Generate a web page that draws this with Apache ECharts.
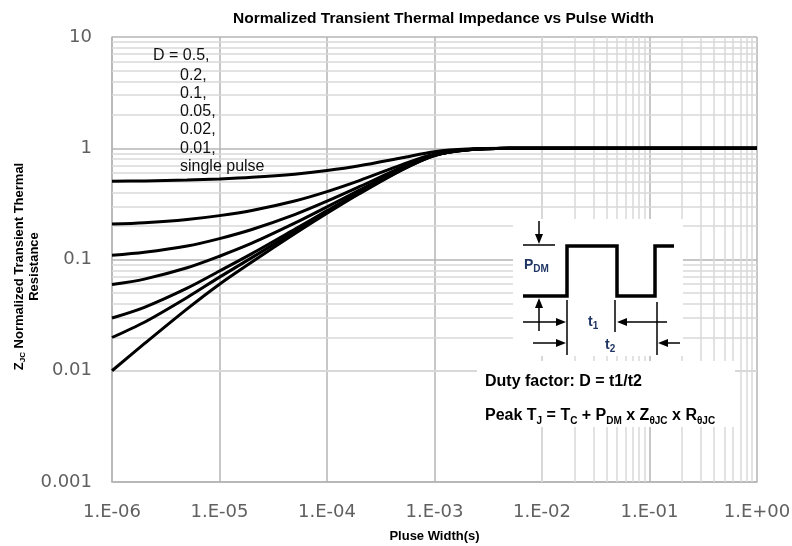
<!DOCTYPE html>
<html>
<head>
<meta charset="utf-8">
<script src="https://cdn.jsdelivr.net/npm/echarts@6/dist/echarts.min.js"></script>
<style>
  html, body { margin: 0; padding: 0; background: #fff; }
  #chart { width: 792px; height: 546px; }
</style>
</head>
<body>
<div id="chart"></div>
<script>
// Pulse widths (s) at which the impedance curves are sampled
const pulseWidths = [1e-6, 2e-6, 5e-6, 1e-5, 2e-5, 5e-5, 1e-4, 2e-4, 5e-4, 1e-3, 2e-3, 5e-3, 1e-2, 1e-1, 1];

// Normalized transient thermal impedance, one array per duty factor
const zD050 = [0.505, 0.509, 0.518, 0.530, 0.548, 0.585, 0.630, 0.695, 0.820, 0.930, 0.983, 0.999, 1, 1, 1];
const zD020 = [0.208, 0.214, 0.229, 0.248, 0.276, 0.336, 0.408, 0.512, 0.712, 0.888, 0.972, 0.998, 1, 1, 1];
const zD010 = [0.109, 0.116, 0.132, 0.154, 0.186, 0.253, 0.334, 0.451, 0.676, 0.874, 0.969, 0.998, 1, 1, 1];
const zD005 = [0.0595, 0.0666, 0.0842, 0.107, 0.140, 0.212, 0.297, 0.421, 0.658, 0.867, 0.967, 0.998, 1, 1, 1];
const zD002 = [0.0298, 0.0372, 0.0553, 0.0788, 0.113, 0.187, 0.275, 0.402, 0.647, 0.863, 0.966, 0.998, 1, 1, 1];
const zD001 = [0.0199, 0.0273, 0.0456, 0.0694, 0.104, 0.178, 0.267, 0.396, 0.644, 0.861, 0.965, 0.998, 1, 1, 1];
const zSingle = [0.010, 0.0175, 0.036, 0.060, 0.095, 0.170, 0.260, 0.390, 0.640, 0.860, 0.965, 0.998, 1, 1, 1];

const seriesNames = ['D = 0.5', 'D = 0.2', 'D = 0.1', 'D = 0.05', 'D = 0.02', 'D = 0.01', 'single pulse'];
const seriesValues = [zD050, zD020, zD010, zD005, zD002, zD001, zSingle];

// Tick labels
const xTickLabels = ['1.E-06', '1.E-05', '1.E-04', '1.E-03', '1.E-02', '1.E-01', '1.E+00'];
const yTickLabels = ['0.001', '0.01', '0.1', '1', '10'];

// Minor grid positions (2..9 within each decade)
const xMinor = [], yMinor = [];
for (let k = -6; k < 0; k++) for (let m = 2; m <= 9; m++) xMinor.push(m * Math.pow(10, k));
for (let k = -3; k < 1; k++) for (let m = 2; m <= 9; m++) yMinor.push(m * Math.pow(10, k));

const MAJOR = '#b4b4b4';
const MINOR = '#d9d9d9';
const NAVY = '#1f3563';
const LABEL_FONT = 'DejaVu Sans';
const TEXT_FONT = 'Liberation Sans';

const chart = echarts.init(document.getElementById('chart'), null, { renderer: 'canvas' });

const curveSeries = seriesNames.map((name, i) => ({
  name,
  type: 'line',
  data: pulseWidths.map((t, j) => [t, seriesValues[i][j]]),
  smooth: 0.3,
  showSymbol: false,
  lineStyle: { color: '#000', width: 3 },
  z: 5,
  silent: true
}));

const gridSeries = {
  name: 'minor grid',
  type: 'line',
  data: [],
  z: 1,
  silent: true,
  markLine: {
    silent: true,
    symbol: ['none', 'none'],
    label: { show: false },
    animation: false,
    lineStyle: { color: MINOR, width: 1.5, type: 'solid' },
    data: xMinor.map(v => ({ xAxis: v })).concat(yMinor.map(v => ({ yAxis: v })))
  }
};

const subStyle = (size, color) => ({
  fontSize: size, fontWeight: 'bold', fontFamily: TEXT_FONT, color,
  verticalAlign: 'bottom', lineHeight: size + 1
});

const arrowHead = (pts) => ({
  type: 'polygon', z: 101, shape: { points: pts }, style: { fill: '#000' }
});
const seg = (x1, y1, x2, y2, w) => ({
  type: 'line', z: 101, shape: { x1, y1, x2, y2 }, style: { stroke: '#000', lineWidth: w || 1.5 }
});

const option = {
  animation: false,
  backgroundColor: '#fff',
  title: {
    text: 'Normalized Transient Thermal Impedance vs Pulse Width',
    left: 228, top: 6,
    textStyle: { fontFamily: TEXT_FONT, fontSize: 15.5, fontWeight: 'bold', color: '#000' }
  },
  grid: { left: 112, right: 35, top: 37, bottom: 64, containLabel: false, outerBoundsMode: 'none' },
  xAxis: {
    type: 'log', logBase: 10, min: 1e-6, max: 1, splitNumber: 6,
    name: 'Pluse Width(s)', nameLocation: 'middle', nameGap: 48,
    nameTextStyle: { fontFamily: TEXT_FONT, fontSize: 13, fontWeight: 'bold', color: '#000' },
    axisLine: { show: true, lineStyle: { color: MAJOR, width: 1.5 } },
    axisTick: { show: false },
    axisLabel: {
      margin: 21, fontFamily: LABEL_FONT, fontSize: 18, color: '#606060',
      formatter: v => xTickLabels[Math.round(Math.log10(v)) + 6]
    },
    splitLine: { show: true, lineStyle: { color: MAJOR, width: 1.5 } }
  },
  yAxis: {
    type: 'log', logBase: 10, min: 0.001, max: 10, splitNumber: 4,
    name: 'Z{sub|JC} Normalized Transient Thermal\nResistance',
    nameLocation: 'middle', nameGap: 70, nameRotate: 90, nameMoveOverlap: false,
    nameTextStyle: {
      fontFamily: TEXT_FONT, fontSize: 13, fontWeight: 'bold', color: '#000', lineHeight: 15,
      padding: [0, 14, 0, 0],
      rich: { sub: subStyle(8, '#000') }
    },
    axisLine: { show: true, lineStyle: { color: MAJOR, width: 1.5 } },
    axisTick: { show: false },
    axisLabel: {
      margin: 20, fontFamily: LABEL_FONT, fontSize: 18, color: '#606060',
      formatter: v => yTickLabels[Math.round(Math.log10(v)) + 3]
    },
    splitLine: { show: true, lineStyle: { color: MAJOR, width: 1.5 } }
  },
  series: [gridSeries].concat(curveSeries),
  graphic: [
    // duty factor annotation
    { type: 'text', z: 100, left: 153, top: 48,
      style: { text: 'D = 0.5,', font: '16px "Liberation Sans"', fill: '#111' } },
    { type: 'text', z: 100, left: 180, top: 66,
      style: { text: '0.2,\n0.1,\n0.05,\n0.02,\n0.01,\nsingle pulse', font: '16px "Liberation Sans"',
               lineHeight: 18.3, fill: '#111' } },

    // pulse train inset
    { type: 'rect', z: 100, shape: { x: 513, y: 219, width: 170, height: 137 }, style: { fill: '#fff' } },
    { type: 'polyline', z: 101,
      shape: { points: [[523, 296], [567, 296], [567, 246], [617, 246], [617, 296], [655, 296], [655, 246], [674, 246]] },
      style: { stroke: '#000', lineWidth: 3.5, fill: null } },
    seg(523, 245, 555, 245),
    seg(539, 221, 539, 236), arrowHead([[535, 234], [543, 234], [539, 244]]),
    seg(539, 331, 539, 306), arrowHead([[535, 308], [543, 308], [539, 298]]),
    seg(523, 322, 558, 322), arrowHead([[556, 318], [556, 326], [566, 322]]),
    seg(567, 300, 567, 355), seg(615, 300, 615, 332), seg(657, 302, 657, 355),
    seg(667, 322, 626, 322), arrowHead([[627, 318], [627, 326], [617, 322]]),
    seg(533, 343, 558, 343), arrowHead([[556, 339], [556, 347], [566, 343]]),
    seg(680, 343, 667, 343), arrowHead([[668, 339], [668, 347], [658, 343]]),
    { type: 'text', z: 102, left: 524, top: 257,
      style: { text: 'P{s|DM}', fontFamily: TEXT_FONT, fontSize: 14, fontWeight: 'bold', fill: NAVY,
               lineHeight: 17, rich: { s: subStyle(10, NAVY) } } },
    { type: 'text', z: 102, left: 588, top: 314,
      style: { text: 't{s|1}', fontFamily: TEXT_FONT, fontSize: 14, fontWeight: 'bold', fill: NAVY,
               lineHeight: 17, rich: { s: subStyle(10, NAVY) } } },
    { type: 'text', z: 102, left: 605, top: 337,
      style: { text: 't{s|2}', fontFamily: TEXT_FONT, fontSize: 14, fontWeight: 'bold', fill: NAVY,
               lineHeight: 17, rich: { s: subStyle(10, NAVY) } } },

    // formula box
    { type: 'rect', z: 100, shape: { x: 477, y: 361, width: 258, height: 66 }, style: { fill: '#fff' } },
    { type: 'text', z: 102, left: 485, top: 374,
      style: { text: 'Duty factor: D = t1/t2', fontFamily: TEXT_FONT, fontSize: 16, fontWeight: 'bold', fill: '#000' } },
    { type: 'text', z: 102, left: 485, top: 406,
      style: { text: 'Peak T{s|J} = T{s|C} + P{s|DM} x Z{s|θJC} x R{s|θJC}', fontFamily: TEXT_FONT,
               fontSize: 16, fontWeight: 'bold', fill: '#000', lineHeight: 20,
               rich: { s: subStyle(10, '#000') } } }
  ]
};

chart.setOption(option);
</script>
</body>
</html>
